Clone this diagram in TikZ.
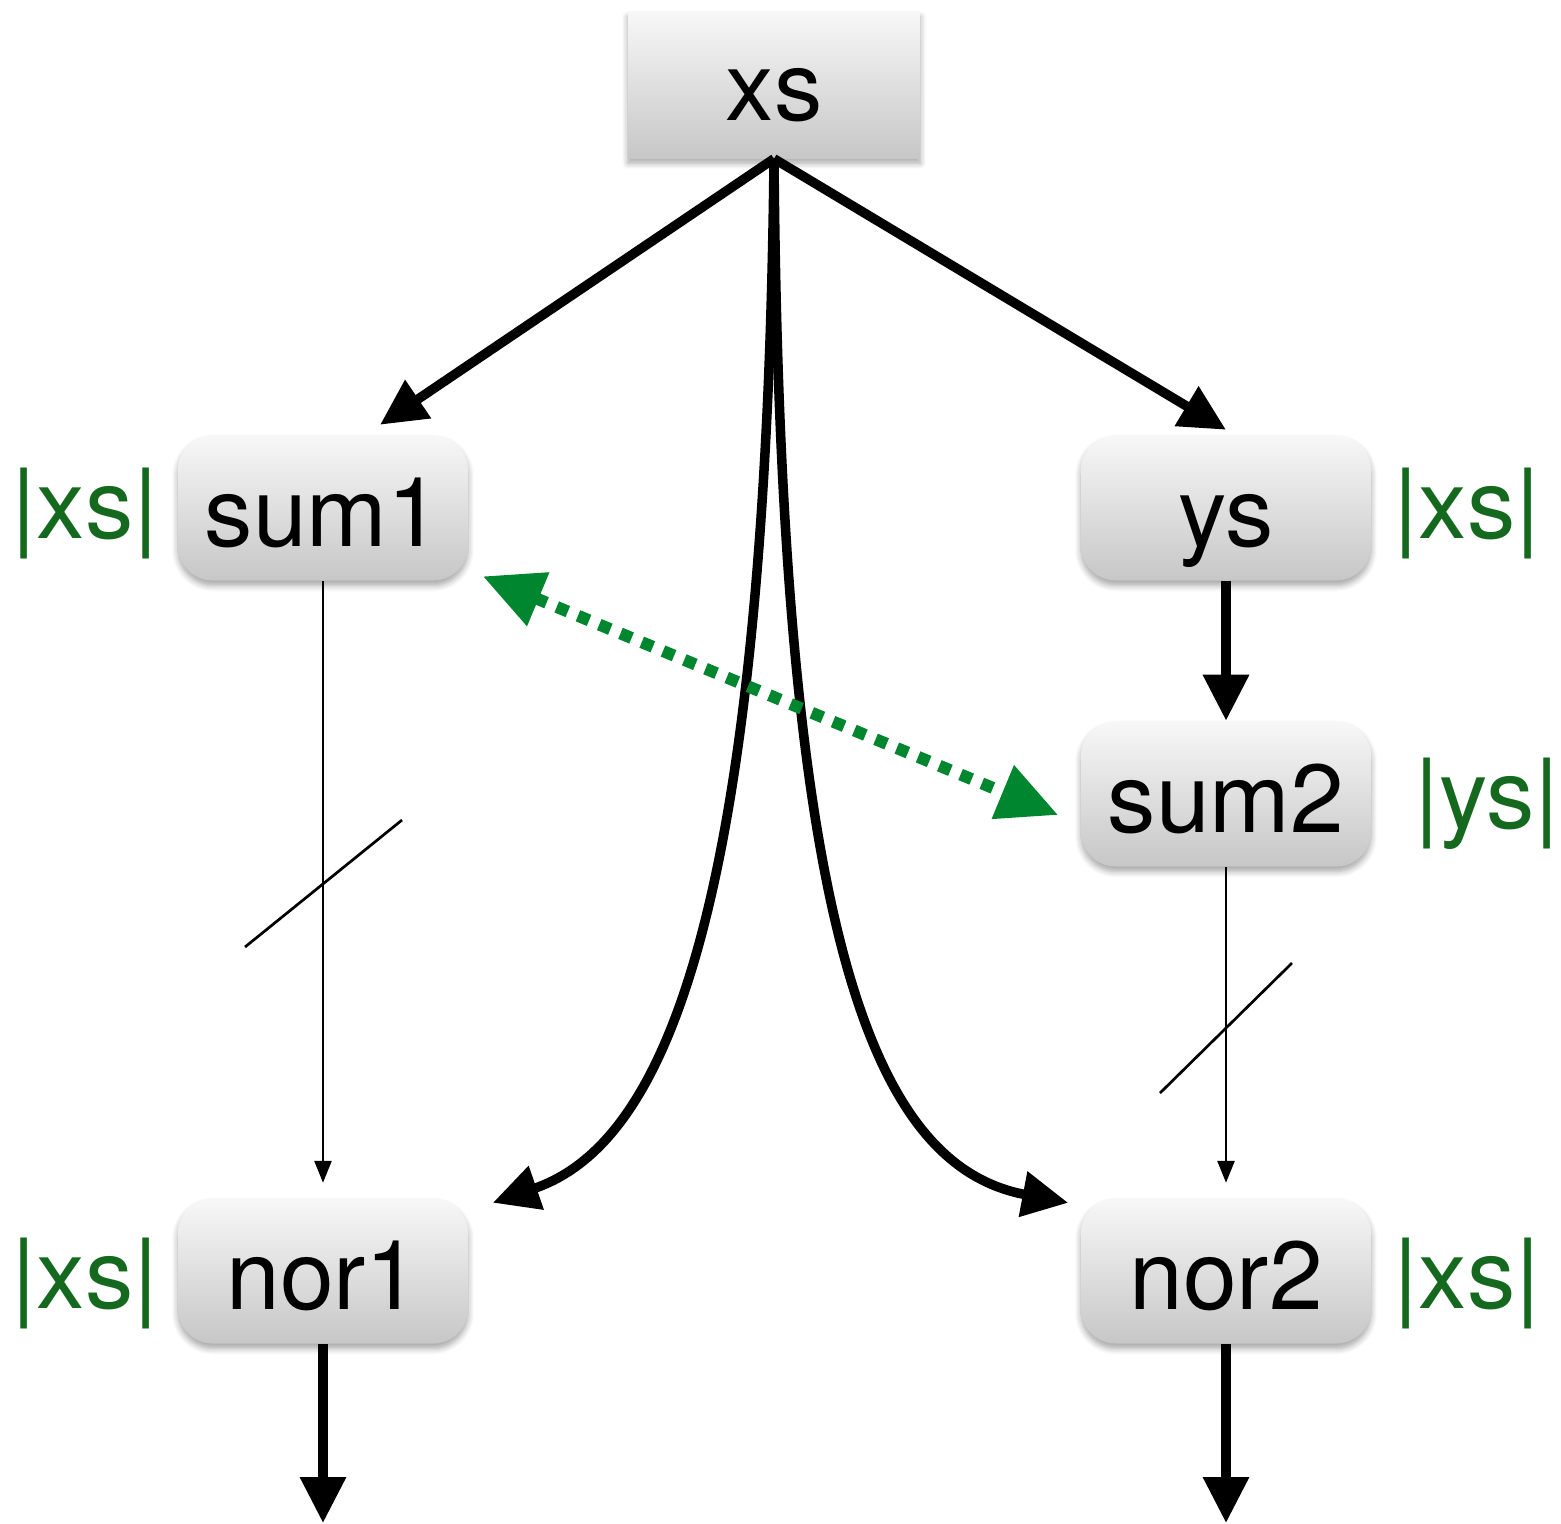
\documentclass[tikz,border=0pt]{standalone}
\usepackage{fontspec}
\setmainfont{TeX Gyre Heros}
\usetikzlibrary{arrows.meta,shadows.blur}
\definecolor{dotgreen}{RGB}{0,134,47}
\definecolor{lblgreen}{RGB}{20,105,30}
\tikzset{
  boxbase/.style={minimum width=2.9cm, minimum height=1.45cm, inner sep=0pt,
    top color=black!3, bottom color=black!22,
    blur shadow={shadow xshift=0pt, shadow yshift=-0.05cm, shadow blur steps=6,
      shadow blur radius=0.06cm, shadow opacity=35},
    font=\fontsize{27.5}{30}\selectfont},
  rbox/.style={boxbase, rounded corners=0.35cm, text height=0.9cm, text depth=0.14cm},
  sbox/.style={boxbase, minimum width=2.92cm, minimum height=1.46cm, text height=0.84cm, text depth=0.14cm},
  lbl/.style={text=lblgreen, font=\fontsize{27.5}{30}\selectfont, inner sep=0pt},
  thk/.style={line width=0.095cm, -{Triangle[length=0.46cm,width=0.44cm]}},
  thn/.style={line width=0.027cm, -{Triangle[length=0.22cm,width=0.17cm]}},
  grn/.style={dotgreen, line width=0.12cm, dash pattern=on 0.12cm off 0.11cm,
    {Triangle[length=0.6cm,width=0.55cm]}-{Triangle[length=0.6cm,width=0.55cm]}},
  slash/.style={line width=0.027cm}
}
\begin{document}
\begin{tikzpicture}[x=0.01cm, y=-0.01cm]
\useasboundingbox (0,0) rectangle (1561,1523);
% nodes
\node[sbox] (xs) at (774,85) {xs};
\node[rbox] (sum1) at (323,508) {sum1};
\node[rbox] (ys) at (1226,508) {ys};
\node[rbox] (sum2) at (1226,794) {sum2};
\node[rbox] (nor1) at (323,1271) {nor1};
\node[rbox] (nor2) at (1226,1271) {nor2};
% labels
\node[lbl] (l1) at (85,513) {|xs|};
\node[lbl] (l2) at (1467,513) {|xs|};
\node[lbl] (l3) at (1487,804) {|ys|};
\node[lbl] (l4) at (85,1283) {|xs|};
\node[lbl] (l5) at (1467,1283) {|xs|};
% free ends
\coordinate (out1) at (323,1523);
\coordinate (out2) at (1226,1523);
% connectors
\draw[thk] (xs.south) -- ([xshift=0.57cm,yshift=0.1cm]sum1.north);
\draw[thk] (xs.south) -- ([yshift=0.05cm]ys.north);
\draw[thk] (xs.south) .. controls (766,930) and (660,1145) .. ([xshift=0.24cm,yshift=-0.05cm]nor1.north east);
\draw[thk] (xs.south) .. controls (780,930) and (870,1165) .. ([xshift=-0.12cm,yshift=-0.05cm]nor2.north west);
\draw[thn] (sum1.south) -- ([yshift=0.15cm]nor1.north);
\draw[thn] (sum2.south) -- ([yshift=0.15cm]nor2.north);
\draw[thk] (ys.south) -- (sum2.north);
\draw[thk] (nor1.south) -- (out1);
\draw[thk] (nor2.south) -- (out2);
\draw[grn] ([xshift=0.14cm,yshift=0.05cm]sum1.south east) -- ([xshift=-0.22cm,yshift=-0.21cm]sum2.west);
% slashes
\draw[slash] (245,947) -- (402,820);
\draw[slash] (1160,1093) -- (1292,963);
\end{tikzpicture}
\end{document}
